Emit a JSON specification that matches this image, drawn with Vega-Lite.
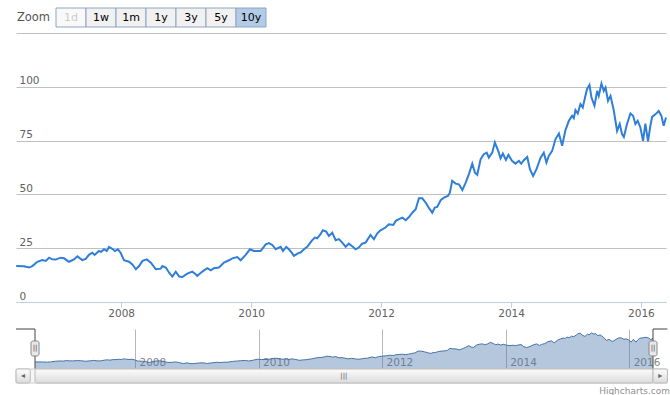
{
  "$schema": "https://vega.github.io/schema/vega-lite/v6.json",
  "padding": {"left": 12, "top": 7, "right": 8, "bottom": 0},
  "background": "white",
  "config": {
    "view": {"stroke": null},
    "font": "DejaVu Sans",
    "axis": {"labelFont": "DejaVu Sans", "labelFontSize": 10.5, "title": null},
    "text": {"font": "DejaVu Sans"}
  },
  "title": {"text": "Highcharts.com", "orient": "bottom", "anchor": "end", "fontSize": 9, "fontWeight": "normal", "color": "#909090", "font": "DejaVu Sans", "offset": 3},
  "datasets": {
    "prices": [
      {"date": "2006-05-21", "value": 16.7}, {"date": "2006-07-04", "value": 16.6}, {"date": "2006-08-01", "value": 16.0},
      {"date": "2006-08-20", "value": 16.7}, {"date": "2006-09-17", "value": 18.7}, {"date": "2006-10-15", "value": 19.5},
      {"date": "2006-11-03", "value": 19.1}, {"date": "2006-11-22", "value": 20.6}, {"date": "2006-12-10", "value": 19.8},
      {"date": "2006-12-29", "value": 19.7}, {"date": "2007-01-26", "value": 20.6}, {"date": "2007-02-14", "value": 20.3},
      {"date": "2007-03-14", "value": 18.7}, {"date": "2007-04-11", "value": 19.8}, {"date": "2007-04-30", "value": 21.2},
      {"date": "2007-05-28", "value": 19.5}, {"date": "2007-06-16", "value": 20.0}, {"date": "2007-07-04", "value": 21.9},
      {"date": "2007-07-23", "value": 22.9}, {"date": "2007-08-05", "value": 21.9}, {"date": "2007-08-29", "value": 23.7},
      {"date": "2007-09-11", "value": 23.3}, {"date": "2007-09-27", "value": 24.5}, {"date": "2007-10-12", "value": 23.7},
      {"date": "2007-10-25", "value": 25.6}, {"date": "2007-11-12", "value": 24.7}, {"date": "2007-11-27", "value": 23.7},
      {"date": "2007-12-14", "value": 24.5}, {"date": "2007-12-29", "value": 22.9}, {"date": "2008-01-17", "value": 19.4},
      {"date": "2008-02-14", "value": 18.7}, {"date": "2008-03-04", "value": 17.5}, {"date": "2008-03-24", "value": 15.2},
      {"date": "2008-04-11", "value": 16.7}, {"date": "2008-04-30", "value": 19.1}, {"date": "2008-05-24", "value": 19.8},
      {"date": "2008-06-16", "value": 18.3}, {"date": "2008-07-14", "value": 15.2}, {"date": "2008-08-11", "value": 15.5},
      {"date": "2008-08-20", "value": 16.7}, {"date": "2008-09-08", "value": 16.0}, {"date": "2008-09-27", "value": 13.6},
      {"date": "2008-10-15", "value": 11.8}, {"date": "2008-11-03", "value": 14.1}, {"date": "2008-11-22", "value": 11.8},
      {"date": "2008-12-10", "value": 11.6}, {"date": "2009-01-07", "value": 13.2}, {"date": "2009-02-04", "value": 14.1},
      {"date": "2009-02-23", "value": 12.9}, {"date": "2009-03-04", "value": 12.1}, {"date": "2009-03-24", "value": 13.6},
      {"date": "2009-04-11", "value": 14.7}, {"date": "2009-04-30", "value": 15.7}, {"date": "2009-05-19", "value": 14.7},
      {"date": "2009-06-06", "value": 15.7}, {"date": "2009-07-04", "value": 16.0}, {"date": "2009-08-01", "value": 18.3},
      {"date": "2009-08-29", "value": 19.4}, {"date": "2009-09-17", "value": 20.3}, {"date": "2009-10-15", "value": 20.9},
      {"date": "2009-11-03", "value": 19.4}, {"date": "2009-12-01", "value": 21.9}, {"date": "2009-12-25", "value": 24.5},
      {"date": "2010-01-17", "value": 23.7}, {"date": "2010-02-23", "value": 23.7}, {"date": "2010-03-24", "value": 26.8},
      {"date": "2010-04-11", "value": 27.4}, {"date": "2010-04-30", "value": 26.5}, {"date": "2010-05-19", "value": 24.5},
      {"date": "2010-06-16", "value": 25.6}, {"date": "2010-06-29", "value": 23.7}, {"date": "2010-07-17", "value": 25.6},
      {"date": "2010-08-01", "value": 24.5}, {"date": "2010-08-17", "value": 22.9}, {"date": "2010-08-29", "value": 21.4},
      {"date": "2010-09-23", "value": 22.7}, {"date": "2010-10-06", "value": 23.0}, {"date": "2010-10-25", "value": 24.5},
      {"date": "2010-11-12", "value": 25.6}, {"date": "2010-12-07", "value": 28.4}, {"date": "2010-12-25", "value": 29.9},
      {"date": "2011-01-07", "value": 29.6}, {"date": "2011-01-26", "value": 31.5}, {"date": "2011-02-08", "value": 33.3},
      {"date": "2011-02-27", "value": 32.7}, {"date": "2011-03-14", "value": 30.7}, {"date": "2011-04-02", "value": 32.2},
      {"date": "2011-04-21", "value": 28.7}, {"date": "2011-05-09", "value": 29.2}, {"date": "2011-05-28", "value": 27.6},
      {"date": "2011-06-16", "value": 25.7}, {"date": "2011-07-04", "value": 27.1}, {"date": "2011-07-28", "value": 25.6},
      {"date": "2011-08-11", "value": 24.5}, {"date": "2011-08-29", "value": 25.3}, {"date": "2011-09-17", "value": 27.1},
      {"date": "2011-10-06", "value": 27.6}, {"date": "2011-11-03", "value": 31.2}, {"date": "2011-11-22", "value": 29.2},
      {"date": "2011-12-10", "value": 31.8}, {"date": "2011-12-29", "value": 33.3}, {"date": "2012-01-26", "value": 34.6},
      {"date": "2012-02-14", "value": 36.1}, {"date": "2012-03-10", "value": 35.8}, {"date": "2012-03-24", "value": 37.7},
      {"date": "2012-04-11", "value": 38.5}, {"date": "2012-04-30", "value": 39.2}, {"date": "2012-05-19", "value": 38.0},
      {"date": "2012-06-06", "value": 39.5}, {"date": "2012-06-25", "value": 41.5}, {"date": "2012-07-14", "value": 43.1},
      {"date": "2012-08-01", "value": 48.2}, {"date": "2012-08-20", "value": 48.2}, {"date": "2012-09-08", "value": 46.2},
      {"date": "2012-09-27", "value": 43.6}, {"date": "2012-10-15", "value": 41.5}, {"date": "2012-10-29", "value": 43.9},
      {"date": "2012-11-12", "value": 44.2}, {"date": "2012-12-01", "value": 47.3}, {"date": "2012-12-20", "value": 48.5},
      {"date": "2013-01-11", "value": 49.3}, {"date": "2013-01-22", "value": 50.8}, {"date": "2013-02-04", "value": 56.3},
      {"date": "2013-02-23", "value": 55.0}, {"date": "2013-03-14", "value": 54.7}, {"date": "2013-04-02", "value": 52.0},
      {"date": "2013-04-21", "value": 55.5}, {"date": "2013-05-09", "value": 59.4}, {"date": "2013-05-28", "value": 64.3},
      {"date": "2013-06-12", "value": 60.1}, {"date": "2013-06-25", "value": 59.1}, {"date": "2013-07-14", "value": 66.4},
      {"date": "2013-08-01", "value": 68.7}, {"date": "2013-08-17", "value": 69.4}, {"date": "2013-08-29", "value": 67.1},
      {"date": "2013-09-17", "value": 69.4}, {"date": "2013-10-02", "value": 74.1}, {"date": "2013-10-21", "value": 70.2},
      {"date": "2013-11-03", "value": 66.8}, {"date": "2013-11-16", "value": 69.0}, {"date": "2013-12-03", "value": 66.0},
      {"date": "2013-12-17", "value": 68.4}, {"date": "2014-01-06", "value": 65.6}, {"date": "2014-01-26", "value": 64.3},
      {"date": "2014-02-14", "value": 65.6}, {"date": "2014-02-27", "value": 64.3}, {"date": "2014-03-14", "value": 65.9},
      {"date": "2014-04-02", "value": 67.4}, {"date": "2014-04-17", "value": 61.7}, {"date": "2014-05-05", "value": 58.6},
      {"date": "2014-05-24", "value": 61.7}, {"date": "2014-06-16", "value": 67.1}, {"date": "2014-07-04", "value": 69.4},
      {"date": "2014-07-19", "value": 64.8}, {"date": "2014-08-01", "value": 67.9}, {"date": "2014-08-20", "value": 70.2},
      {"date": "2014-09-08", "value": 75.7}, {"date": "2014-09-27", "value": 78.3}, {"date": "2014-10-15", "value": 72.6},
      {"date": "2014-11-03", "value": 79.9}, {"date": "2014-11-22", "value": 84.2}, {"date": "2014-12-10", "value": 86.5},
      {"date": "2014-12-20", "value": 85.4}, {"date": "2014-12-29", "value": 89.2}, {"date": "2015-01-11", "value": 87.6},
      {"date": "2015-01-26", "value": 92.0}, {"date": "2015-02-08", "value": 90.4}, {"date": "2015-02-23", "value": 95.8},
      {"date": "2015-03-04", "value": 98.9}, {"date": "2015-03-18", "value": 100.9}, {"date": "2015-03-29", "value": 95.0},
      {"date": "2015-04-15", "value": 91.2}, {"date": "2015-04-30", "value": 98.1}, {"date": "2015-05-09", "value": 95.8},
      {"date": "2015-05-24", "value": 101.5}, {"date": "2015-06-06", "value": 98.1}, {"date": "2015-06-16", "value": 99.7},
      {"date": "2015-06-30", "value": 93.5}, {"date": "2015-07-14", "value": 95.8}, {"date": "2015-08-01", "value": 89.2},
      {"date": "2015-08-20", "value": 79.5}, {"date": "2015-09-04", "value": 82.7}, {"date": "2015-09-17", "value": 78.0},
      {"date": "2015-09-27", "value": 76.7}, {"date": "2015-10-15", "value": 82.7}, {"date": "2015-11-03", "value": 87.6},
      {"date": "2015-11-18", "value": 86.5}, {"date": "2015-12-01", "value": 82.7}, {"date": "2015-12-14", "value": 84.2},
      {"date": "2015-12-29", "value": 81.1}, {"date": "2016-01-13", "value": 74.9}, {"date": "2016-01-26", "value": 82.9},
      {"date": "2016-02-10", "value": 74.6}, {"date": "2016-02-23", "value": 81.9}, {"date": "2016-03-04", "value": 86.0},
      {"date": "2016-03-24", "value": 87.3}, {"date": "2016-04-10", "value": 88.8}, {"date": "2016-04-25", "value": 86.5},
      {"date": "2016-05-08", "value": 81.9}, {"date": "2016-05-21", "value": 85.7}
    ],
    "buttons": [
      {"label": "1d", "state": "disabled"}, {"label": "1w", "state": "normal"}, {"label": "1m", "state": "normal"},
      {"label": "1y", "state": "normal"}, {"label": "3y", "state": "normal"}, {"label": "5y", "state": "normal"},
      {"label": "10y", "state": "selected"}
    ]
  },
  "bounds": "flush",
  "spacing": 0,
  "vconcat": [
    {
      "width": 650,
      "height": 19,
      "layer": [
        {
          "data": {"values": [{"label": "Zoom"}]},
          "mark": {"type": "text", "fontSize": 11.5, "color": "#555555"},
          "encoding": {
            "x": {"field": "label", "type": "nominal", "scale": {"type": "point", "range": [0, 35]}, "axis": null},
            "text": {"field": "label"}
          }
        },
        {
          "data": {"name": "buttons"},
          "mark": {"type": "rect", "stroke": "#8ea5bf", "strokeWidth": 1},
          "encoding": {
            "x": {"field": "label", "type": "ordinal", "scale": {"type": "band", "domain": ["1d", "1w", "1m", "1y", "3y", "5y", "10y"], "range": [40, 250], "paddingInner": 0, "paddingOuter": 0}, "axis": null},
            "fill": {"field": "state", "type": "nominal", "scale": {"domain": ["disabled", "normal", "selected"], "range": ["#f9f9f9", "#f1f1f1", "#b3cbe7"]}, "legend": null}
          }
        },
        {
          "data": {"name": "buttons"},
          "mark": {"type": "text", "fontSize": 11},
          "encoding": {
            "x": {"field": "label", "type": "ordinal", "scale": {"type": "band", "domain": ["1d", "1w", "1m", "1y", "3y", "5y", "10y"], "range": [40, 250], "paddingInner": 0, "paddingOuter": 0}, "axis": null},
            "text": {"field": "label"},
            "color": {"field": "state", "type": "nominal", "scale": {"domain": ["disabled", "normal", "selected"], "range": ["#cccccc", "#000000", "#000000"]}, "legend": null}
          }
        }
      ],
      "resolve": {"scale": {"x": "independent", "color": "independent", "fill": "independent"}}
    },
    {
      "width": 650,
      "height": 302,
      "data": {"name": "prices"},
      "mark": {"type": "line", "color": "#2f7ed8", "strokeWidth": 2},
      "encoding": {
        "x": {
          "field": "date", "type": "temporal",
          "scale": {"domain": [{"year": 2006, "month": 5, "date": 20}, {"year": 2016, "month": 5, "date": 21}]},
          "axis": {
            "values": [{"year": 2008}, {"year": 2010}, {"year": 2012}, {"year": 2014}, {"year": 2016}],
            "format": "%Y", "grid": false, "offset": -27, "domainColor": "#C0D0E0", "tickColor": "#C0D0E0", "tickSize": 5,
            "labelColor": "#606060", "labelPadding": 1, "labelFlush": false, "labelOverlap": false
          }
        },
        "y": {
          "field": "value", "type": "quantitative",
          "scale": {"domain": [0, 125], "nice": false, "range": [275, 6]},
          "axis": {
            "values": [0, 25, 50, 75, 100, 125], "grid": true, "gridColor": "#C0C0C0", "domain": false,
            "ticks": false, "tickSize": 0, "labelAlign": "left", "labelBaseline": "alphabetic",
            "labelPadding": -3, "labelOffset": -3, "labelColor": "#606060", "labelFlush": false,
            "labelExpr": "datum.value == 125 ? '' : datum.label"
          }
        }
      }
    },
    {
      "width": 650,
      "height": 40,
      "data": {"values": [{}]},
      "layer": [
        {
          "data": {"name": "prices"},
          "mark": {"type": "area", "fill": "#4572A7", "fillOpacity": 0.4, "opacity": 1, "line": {"color": "#4572A7", "strokeWidth": 1}},
          "encoding": {
            "x": {
              "field": "date", "type": "temporal",
              "scale": {"domain": [{"year": 2006, "month": 5, "date": 20}, {"year": 2016, "month": 5, "date": 21}], "range": [19, 637]},
              "axis": {
                "values": [{"year": 2008}, {"year": 2010}, {"year": 2012}, {"year": 2014}, {"year": 2016}],
                "format": "%Y", "grid": true, "gridColor": "#B8B8B8", "domain": false, "ticks": false, "tickSize": 0,
                "labelAlign": "left", "labelBaseline": "alphabetic", "labelPadding": -4, "labelOffset": 4,
                "labelColor": "#888888", "labelFlush": false, "labelOverlap": false
              }
            },
            "y": {"field": "value", "type": "quantitative", "scale": {"domain": [-4, 113], "nice": false, "zero": false}, "axis": null},
            "y2": {"datum": -4}
          }
        },
        {
          "mark": {"type": "rule", "color": "#444444", "strokeWidth": 1},
          "encoding": {
            "x": {"datum": {"year": 2006, "month": 1, "date": 28}, "type": "temporal"},
            "x2": {"datum": {"year": 2006, "month": 5, "date": 20}},
            "y": {"datum": 113, "type": "quantitative"}
          }
        },
        {
          "mark": {"type": "rule", "color": "#444444", "strokeWidth": 1},
          "encoding": {
            "x": {"datum": {"year": 2016, "month": 5, "date": 21}, "type": "temporal"},
            "x2": {"datum": {"year": 2016, "month": 8, "date": 14}},
            "y": {"datum": 113, "type": "quantitative"}
          }
        },
        {
          "mark": {"type": "rule", "color": "#444444", "strokeWidth": 1},
          "encoding": {
            "x": {"datum": {"year": 2006, "month": 5, "date": 20}, "type": "temporal"},
            "y": {"datum": 113, "type": "quantitative"},
            "y2": {"datum": -4}
          }
        },
        {
          "mark": {"type": "rule", "color": "#444444", "strokeWidth": 1},
          "encoding": {
            "x": {"datum": {"year": 2016, "month": 5, "date": 21}, "type": "temporal"},
            "y": {"datum": 113, "type": "quantitative"},
            "y2": {"datum": -4}
          }
        },
        {
          "mark": {"type": "rect", "width": 8, "height": 15, "fill": "#ebe7e8", "stroke": "#888888", "strokeWidth": 1, "cornerRadius": 2},
          "encoding": {
            "x": {"datum": {"year": 2006, "month": 5, "date": 20}, "type": "temporal"},
            "y": {"datum": 56, "type": "quantitative"}
          }
        },
        {
          "mark": {"type": "rect", "width": 8, "height": 15, "fill": "#ebe7e8", "stroke": "#888888", "strokeWidth": 1, "cornerRadius": 2},
          "encoding": {
            "x": {"datum": {"year": 2016, "month": 5, "date": 21}, "type": "temporal"},
            "y": {"datum": 56, "type": "quantitative"}
          }
        },
        {
          "mark": {"type": "text", "text": "||", "fontSize": 7, "color": "#444444"},
          "encoding": {
            "x": {"datum": {"year": 2006, "month": 5, "date": 20}, "type": "temporal"},
            "y": {"datum": 56, "type": "quantitative"}
          }
        },
        {
          "mark": {"type": "text", "text": "||", "fontSize": 7, "color": "#444444"},
          "encoding": {
            "x": {"datum": {"year": 2016, "month": 5, "date": 21}, "type": "temporal"},
            "y": {"datum": 56, "type": "quantitative"}
          }
        }
      ]
    },
    {
      "width": 650,
      "height": 14,
      "data": {"values": [{}]},
      "layer": [
        {
          "mark": {"type": "rect", "fill": "#f6f6f6", "stroke": "#cccccc", "strokeWidth": 1},
          "encoding": {
            "x": {"datum": {"year": 2006, "month": 1, "date": 28}, "type": "temporal", "scale": {"domain": [{"year": 2006, "month": 5, "date": 20}, {"year": 2016, "month": 5, "date": 21}], "range": [19, 637]}, "axis": null},
            "x2": {"datum": {"year": 2016, "month": 8, "date": 14}}
          }
        },
        {
          "mark": {"type": "rect", "stroke": "#bbbbbb", "strokeWidth": 1, "cornerRadius": 2,
            "fill": {"gradient": "linear", "x1": 0, "y1": 0, "x2": 0, "y2": 1, "stops": [{"offset": 0, "color": "#fcfcfc"}, {"offset": 1, "color": "#dcdcdc"}]}},
          "encoding": {
            "x": {"datum": {"year": 2006, "month": 5, "date": 20}, "type": "temporal"},
            "x2": {"datum": {"year": 2016, "month": 5, "date": 21}}
          }
        },
        {
          "mark": {"type": "rect", "stroke": "#bbbbbb", "strokeWidth": 1, "cornerRadius": 2,
            "fill": {"gradient": "linear", "x1": 0, "y1": 0, "x2": 0, "y2": 1, "stops": [{"offset": 0, "color": "#fcfcfc"}, {"offset": 1, "color": "#dcdcdc"}]}},
          "encoding": {
            "x": {"datum": {"year": 2006, "month": 1, "date": 28}, "type": "temporal"},
            "x2": {"datum": {"year": 2006, "month": 4, "date": 22}}
          }
        },
        {
          "mark": {"type": "rect", "stroke": "#bbbbbb", "strokeWidth": 1, "cornerRadius": 2,
            "fill": {"gradient": "linear", "x1": 0, "y1": 0, "x2": 0, "y2": 1, "stops": [{"offset": 0, "color": "#fcfcfc"}, {"offset": 1, "color": "#dcdcdc"}]}},
          "encoding": {
            "x": {"datum": {"year": 2016, "month": 5, "date": 21}, "type": "temporal"},
            "x2": {"datum": {"year": 2016, "month": 8, "date": 14}}
          }
        },
        {
          "mark": {"type": "text", "text": "◂", "fontSize": 8, "color": "#666666"},
          "encoding": {"x": {"datum": {"year": 2006, "month": 3, "date": 10}, "type": "temporal"}}
        },
        {
          "mark": {"type": "text", "text": "▸", "fontSize": 8, "color": "#666666"},
          "encoding": {"x": {"datum": {"year": 2016, "month": 7, "date": 3}, "type": "temporal"}}
        },
        {
          "mark": {"type": "text", "text": "|||", "fontSize": 7, "color": "#555555"},
          "encoding": {"x": {"datum": {"year": 2011, "month": 5, "date": 20}, "type": "temporal"}}
        }
      ]
    }
  ]
}
